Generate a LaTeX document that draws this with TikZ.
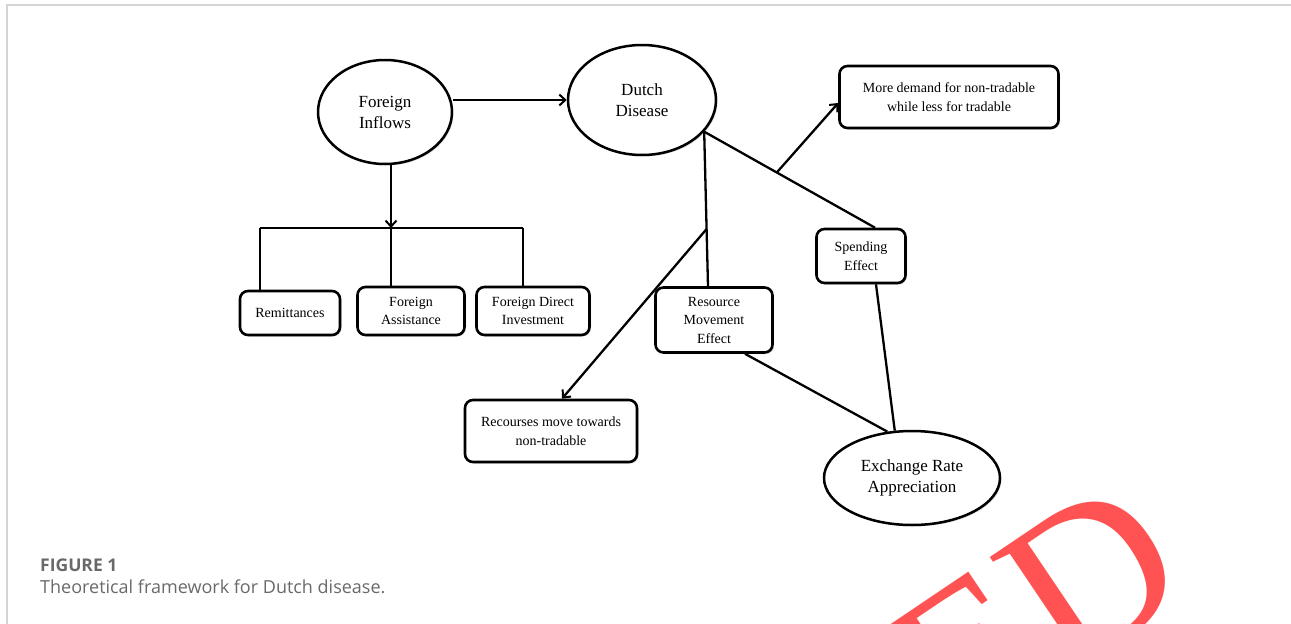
\documentclass[tikz,border=0pt]{standalone}
\usepackage{fontspec}
\setmainfont{Liberation Serif}
\newfontfamily\capfont{Open Sans}
\usetikzlibrary{shapes.geometric,arrows.meta,shadows,calc}
\definecolor{wm}{RGB}{255,82,82}
\definecolor{capgray}{RGB}{105,105,105}
\definecolor{framegray}{RGB}{212,212,212}
\begin{document}
\begin{tikzpicture}[x=1pt,y=-1pt,
  conn/.style={line width=2.3pt},
  arr/.style={conn,-{Straight Barb[length=6pt,width=11pt,line width=2pt]}},
  soft/.style={drop shadow={shadow xshift=1.5pt,shadow yshift=-1.5pt,opacity=0.3,fill=black!50}},
  ell/.style={ellipse,draw,line width=2.5pt,fill=white,soft,inner sep=0pt,align=center,
    font=\fontsize{17}{21}\selectfont},
  box/.style={rectangle,draw,rounded corners=8pt,line width=2.6pt,fill=white,soft,inner sep=0pt,
    align=center,font=\fontsize{14}{18.5}\selectfont},
  captext/.style={anchor=base west,inner sep=0pt,text=capgray}
]
\useasboundingbox (0,0) rectangle (1291,624);
\draw[framegray,line width=1.5pt] (7,624) -- (7,5) -- (1291,5);

% nodes
\node[ell,minimum width=134pt,minimum height=104pt] (fi) at (385,112) {Foreign\\Inflows};
\node[ell,minimum width=148pt,minimum height=110pt] (dd) at (642,100) {Dutch\\Disease};
\node[box,minimum width=100pt,minimum height=44pt] (rem) at (290,313) {Remittances};
\node[box,minimum width=107pt,minimum height=48pt] (fa) at (411,311) {Foreign\\Assistance};
\node[box,minimum width=113pt,minimum height=48pt] (fdi) at (533,311) {Foreign Direct\\Investment};
\node[box,minimum width=219pt,minimum height=62pt] (md) at (949,97) {More demand for non-tradable\\while less for tradable};
\node[box,minimum width=89pt,minimum height=54pt] (se) at (861,256) {Spending\\Effect};
\node[box,minimum width=117pt,minimum height=65pt] (rme) at (714,320) {Resource\\Movement\\Effect};
\node[box,minimum width=172pt,minimum height=62pt] (rec) at (551,431) {Recourses move towards\\non-tradable};
\node[ell,minimum width=176pt,minimum height=94pt] (era) at (912,478) {Exchange Rate\\Appreciation};

% left branch
\draw[arr] (fi.east |- dd.west) -- (dd.west);
\coordinate (j1) at (391,228);
\coordinate (b1) at (260,228);
\coordinate (b3) at (523,228);
\draw[arr] (fi.south -| j1) -- (j1);
\draw[conn] (b1) -- (b3);
\draw[conn] (b1) -- (b1 |- rem.north);
\draw[conn] (j1) -- (j1 |- fa.north);
\draw[conn] (b3) -- (b3 |- fdi.north);

% right branch
\coordinate (ddp) at (dd.-27);
\coordinate (setop) at ($(se.north)+(14,0)$);
\coordinate (rmetop) at ($(rme.north)+(-6,0)$);
\draw[conn] (ddp) -- coordinate[pos=0.425] (s1) (setop);
\draw[conn] (ddp) -- coordinate[pos=0.63] (r1) (rmetop);
\draw[arr] (s1) -- ($(md.west)+(0,6)$);
\draw[arr] (r1) -- ($(rec.north)+(11,0)$);
\draw[conn] ($(rme.south)+(31,0)$) -- (era.118);
\draw[conn] ($(se.south)+(15,0)$) -- (era.110);

% caption
\node[captext,font=\capfont\bfseries\fontsize{17.5}{21}\selectfont] (figlab) at (40,571) {FIGURE 1};
\node[captext,font=\capfont\fontsize{18}{21}\selectfont] (figcap) at (40,593) {Theoretical framework for Dutch disease.};

% watermark
\begin{scope}
\clip (0,0) rectangle (1291,624);
\node[rotate=34,anchor=base west,inner sep=0pt,text=wm,font=\fontsize{220}{220}\selectfont] (wmark) at (954,756) {ED};
\end{scope}
\end{tikzpicture}
\end{document}
